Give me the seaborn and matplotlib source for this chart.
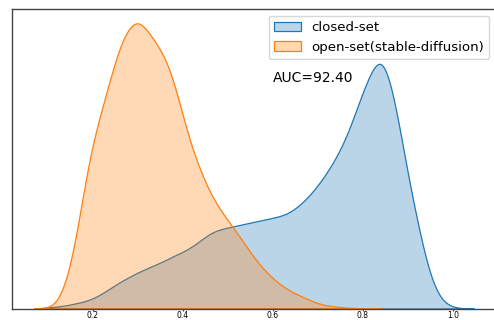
import numpy as np
import pandas as pd
import seaborn as sns
import matplotlib.pyplot as plt

score = [0.06, 0.08, 0.10, 0.12, 0.14, 0.16, 0.18, 0.20, 0.22, 0.24,
         0.26, 0.28, 0.30, 0.32, 0.34, 0.36, 0.38, 0.40, 0.42, 0.44,
         0.46, 0.48, 0.50, 0.52, 0.54, 0.56, 0.58, 0.60, 0.62, 0.64,
         0.66, 0.68, 0.70, 0.72, 0.74, 0.76, 0.78, 0.80, 0.82, 0.84,
         0.86, 0.88, 0.90, 0.92, 0.94, 0.96, 0.98, 1.00, 1.02, 1.04]

# relative density heights
closed_set = [0, 0.3, 1, 2, 3, 5, 7, 10, 15, 21,
              27, 32, 37, 41, 45, 49, 54, 58, 63, 70,
              77, 81, 83, 85, 87, 89, 91, 93, 95, 99,
              106, 115, 126, 139, 154, 172, 196, 222, 245, 259,
              237, 191, 138, 92, 50, 20, 6, 1.5, 0.3, 0]
open_set = [0, 0, 0.5, 5, 24, 62, 117, 166, 198, 231,
            262, 281, 289, 279, 266, 252, 228, 193, 161, 137,
            116, 101, 88, 76, 63, 50, 39, 30, 23, 17,
            13, 9, 5, 3, 2, 1, 0.5, 0.3, 0, 0,
            0, 0, 0, 0, 0, 0, 0, 0, 0, 0]

labels = ['closed-set', 'open-set(stable-diffusion)']
auc_text = 'AUC=92.40'

df = pd.DataFrame({'score': score, 'closed': closed_set, 'open': open_set})

fig = plt.figure(figsize=(4.94, 3.2), dpi=100)
ax = fig.add_axes([12 / 494, 11.5 / 320, 484 / 494, 299.5 / 320])


def bw_for(w, target=0.014):
    sd = np.sqrt(np.cov(df['score'], aweights=w))
    return target / sd


sns.kdeplot(data=df, x='score', weights='closed', fill=True, alpha=0.3,
            color='#1f77b4', linewidth=0.9, bw_method=bw_for(df['closed']),
            clip=(0.071, 1.047), gridsize=500, label=labels[0], ax=ax)
sns.kdeplot(data=df, x='score', weights='open', fill=True, alpha=0.3,
            color='#ff7f0e', linewidth=0.9, bw_method=bw_for(df['open']),
            clip=(0.071, 0.84), gridsize=500, label=labels[1], ax=ax)

ax.set_xlim(0.021, 1.096)
ax.set_xticks([0.2, 0.4, 0.6, 0.8, 1.0])
ax.set_yticks([])
ax.set_xlabel('')
ax.set_ylabel('')
ax.tick_params(axis='x', labelsize=5.5, length=1.5, width=0.5, pad=0.5)
for s in ax.spines.values():
    s.set_color('#444444')
    s.set_linewidth(1.0)

ax.legend(loc='upper right', fontsize=9.6)
ax.text(0.539, 0.77, auc_text, transform=ax.transAxes, fontsize=10, va='center')

fig.savefig('out.png', dpi=100)
